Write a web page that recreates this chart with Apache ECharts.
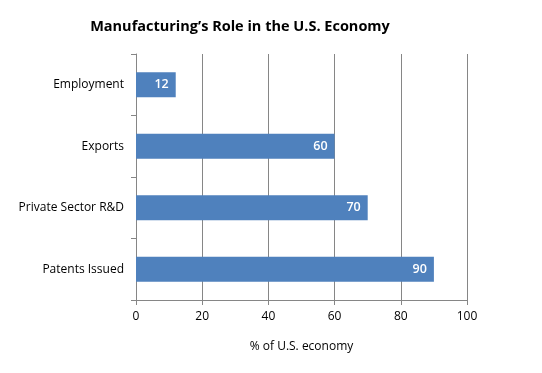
<!DOCTYPE html>
<html><head><meta charset="utf-8">
<script src="https://cdn.jsdelivr.net/npm/echarts@6/dist/echarts.min.js"></script>
<style>html,body{margin:0;padding:0;background:#fff}#c{width:542px;height:373px}</style>
</head><body><div id="c"></div>
<script>
const categories = ["Employment", "Exports", "Private Sector R&D", "Patents Issued"];
const values = [12, 60, 70, 90];
const xTicks = [0, 20, 40, 60, 80, 100];
const titleText = "Manufacturing’s Role in the U.S. Economy";
const xAxisName = "% of U.S. economy";

const font = "'Open Sans', 'Liberation Sans', sans-serif";
const chart = echarts.init(document.getElementById('c'), null, {renderer: 'canvas'});
chart.setOption({
  animation: false,
  title: {
    text: titleText, left: 235, top: 14, textAlign: 'center',
    textStyle: {fontFamily: font, fontWeight: 'bold', fontSize: 14.5, color: '#000'}
  },
  grid: {left: 136, right: 75, top: 54, bottom: 73, containLabel: false},
  xAxis: {
    type: 'value', min: xTicks[0], max: xTicks[xTicks.length - 1], interval: 20,
    name: xAxisName, nameLocation: 'middle', nameGap: 41,
    nameTextStyle: {fontFamily: font, fontSize: 12, color: '#000'},
    axisLine: {show: true, lineStyle: {color: '#868686', width: 1}},
    axisTick: {show: true, length: 5, lineStyle: {color: '#868686'}},
    axisLabel: {fontFamily: font, fontSize: 12, color: '#000', margin: 11},
    splitLine: {show: true, lineStyle: {color: '#868686', width: 1}}
  },
  yAxis: {
    type: 'category', data: categories, inverse: true,
    axisLine: {show: true, lineStyle: {color: '#868686', width: 1}},
    axisTick: {show: true, length: 5, lineStyle: {color: '#868686'}},
    axisLabel: {fontFamily: font, fontSize: 12, color: '#000', margin: 12},
    splitLine: {show: false}
  },
  series: [{
    type: 'bar', data: values, barCategoryGap: '59%',
    itemStyle: {color: '#4F81BD'},
    label: {show: true, position: 'insideRight', distance: 7, color: '#fff',
      fontFamily: font, fontWeight: 600, fontSize: 12.5}
  }]
});
</script></body></html>
